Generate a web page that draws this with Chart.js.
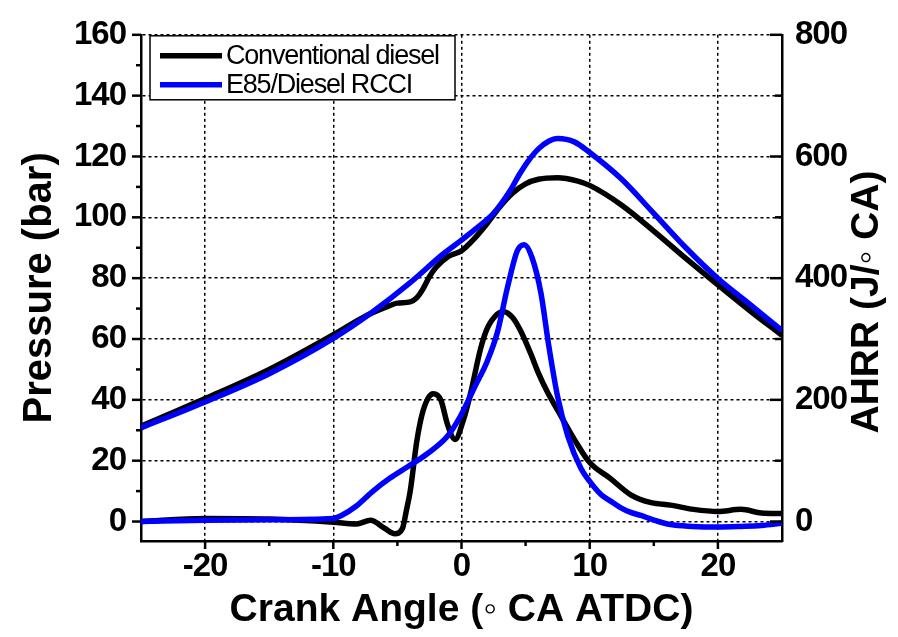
<!DOCTYPE html>
<html>
<head>
<meta charset="utf-8">
<script src="https://cdn.jsdelivr.net/npm/chart.js@4.4.0/dist/chart.umd.min.js"></script>
<style>
  body { margin: 0; background: #fff; }
</style>
</head>
<body>
<canvas id="chart" width="898" height="637"></canvas>
<script>
// axis ticks
let xTicks = [-20, -10, 0, 10, 20];
let xMinorTicks = [-15, -5, 5, 15];
let pressureTicks = [0, 20, 40, 60, 80, 100, 120, 140, 160];
let pressureMinorTicks = [10, 30, 50, 70, 90, 110, 130, 150];
let ahrrTicks = [0, 200, 400, 600, 800];
let ahrrMinorTicks = [100, 300, 500, 700];

let seriesNames = ['Conventional diesel', 'E85/Diesel RCCI'];

// cylinder pressure (bar) vs crank angle
let dieselPressureCA = [-25, -20, -15, -10, -7.5, -6, -5, -4, -3.5, -3, -2.5, -2, -1, 0, 1, 2, 3, 4, 5, 6, 7.5, 9, 10, 12.5, 15, 17.5, 20, 22.5, 25];
let dieselPressure   = [31.3, 40.4, 50, 61.4, 67.5, 70.3, 71.8, 72.2, 73.5, 76.5, 80.5, 83.5, 87.2, 89, 93, 98, 103.5, 108, 111, 112.5, 113, 112, 110.5, 104, 95.5, 86.5, 77.8, 69.3, 61.2];

let rcciPressureCA = [-25, -20, -15, -10, -7, -4, -1.5, 0, 1.2, 2.5, 3.8, 4.5, 5.2, 6, 6.8, 7.5, 8.8, 10, 12.5, 15, 17.5, 20, 22.5, 25];
let rcciPressure   = [30.8, 39.3, 48.6, 60.2, 68.7, 78.5, 87.7, 92.5, 96.5, 101.3, 108.8, 114, 118.5, 122.5, 125, 125.9, 124.8, 121.3, 112.5, 101.3, 90, 79.9, 71.4, 62.8];

// apparent heat release rate (J/deg CA) vs crank angle
let dieselAhrrCA = [-25, -20, -15, -10, -8.2, -7.1, -6, -5.2, -4.6, -4.3, -4, -3.5, -3.1, -2.6, -2.2, -1.6, -1.1, -0.5, 0.15, 0.7, 1.5, 2, 2.8, 3.3, 4, 4.6, 5.4, 6, 6.7, 7.5, 8.8, 10, 11.6, 13.2, 14.8, 16.3, 18.1, 20, 21.8, 23.4, 25];
let dieselAhrr   = [0, 5, 4, -1, -4, 2, -11, -20, -11, 18, 50, 130, 174, 203, 210, 199, 160, 135, 167, 210, 285, 317, 341, 345, 335, 314, 276, 244, 213, 183, 135, 97, 71, 44, 31, 27, 20, 16.5, 20, 14, 13];

let rcciAhrrCA = [-25, -20, -15, -10, -9.4, -8.2, -6.9, -5.6, -4.2, -2.7, -1.1, -0.1, 1, 2, 2.8, 3.6, 4.35, 4.9, 5.5, 6.2, 6.8, 7.5, 8.3, 9.3, 10, 10.9, 11.6, 12.4, 13.2, 14, 14.8, 16.3, 18, 20, 21.8, 23.4, 25];
let rcciAhrr   = [0, 2, 3, 5, 9.6, 25.6, 50, 71, 90, 111, 140, 172.6, 220, 263, 311, 386, 445, 455, 434, 375, 290, 205, 140, 88, 66, 44, 34, 23, 15, 10, 4, -5, -8, -9, -8, -6.5, -3];

function toPoints(xs, ys) {
    return xs.map(function (x, i) { return { x: x, y: ys[i] }; });
}

const FONT = '"Liberation Sans", Arial, sans-serif';
Chart.defaults.font.family = FONT;
Chart.defaults.color = '#000';

function drawTicks(ctx, scale, values, len, side) {
    values.forEach(function (v) {
        let p = scale.getPixelForValue(v);
        ctx.beginPath();
        if (side === 'bottom') { ctx.moveTo(p, scale.top); ctx.lineTo(p, scale.top + len); }
        else if (side === 'left') { ctx.moveTo(scale.right, p); ctx.lineTo(scale.right - len, p); }
        else { ctx.moveTo(scale.left, p); ctx.lineTo(scale.left - len, p); }
        ctx.stroke();
    });
}

function drawTitle(ctx, text, x, y, rot, size) {
    ctx.save();
    ctx.translate(x, y);
    ctx.rotate(rot);
    ctx.letterSpacing = '0px';
    ctx.font = 'bold ' + size + 'px ' + FONT;
    ctx.fillStyle = '#000';
    ctx.textAlign = 'center';
    ctx.textBaseline = 'middle';
    ctx.fillText(text, 0, 0);
    ctx.restore();
}

const decorations = {
    id: 'decorations',
    beforeDraw(chart) {
        chart.ctx.letterSpacing = '-1px';
    },
    afterDraw(chart) {
        const ctx = chart.ctx;
        const a = chart.chartArea;
        const sx = chart.scales.x, sy = chart.scales.y, sy2 = chart.scales.y2;

        ctx.save();
        ctx.strokeStyle = '#000';
        ctx.lineWidth = 2.5;
        drawTicks(ctx, sx, xTicks, 8, 'bottom');
        drawTicks(ctx, sx, xMinorTicks, 5, 'bottom');
        drawTicks(ctx, sy, pressureTicks, 9, 'left');
        drawTicks(ctx, sy, pressureMinorTicks, 5, 'left');
        drawTicks(ctx, sy2, ahrrTicks, 12, 'right');
        drawTicks(ctx, sy2, ahrrMinorTicks, 7, 'right');
        ctx.restore();

        // legend box
        const x0 = a.left + 9, y0 = a.top + 1;
        ctx.save();
        ctx.fillStyle = '#fff';
        ctx.fillRect(x0, y0, 305, 64);
        ctx.strokeStyle = '#000';
        ctx.lineWidth = 1.5;
        ctx.strokeRect(x0, y0, 305, 64);
        ctx.letterSpacing = '-1.2px';
        ctx.font = '27px ' + FONT;
        ctx.textAlign = 'left';
        ctx.textBaseline = 'middle';
        seriesNames.forEach(function (name, i) {
            let y = y0 + 20 + i * 29;
            ctx.strokeStyle = chart.data.datasets[i].borderColor;
            ctx.lineWidth = 5.5;
            ctx.beginPath();
            ctx.moveTo(x0 + 10, y);
            ctx.lineTo(x0 + 72, y);
            ctx.stroke();
            ctx.fillStyle = '#000';
            ctx.fillText(name, x0 + 76, y + 1);
        });
        ctx.restore();

        // axis titles
        drawTitle(ctx, 'Crank Angle (\u25E6 CA ATDC)', (a.left + a.right) / 2, 610, 0, 39);
        drawTitle(ctx, 'Pressure (bar)', 40, (a.top + a.bottom) / 2, -Math.PI / 2, 40);
        drawTitle(ctx, 'AHRR (J/\u25E6 CA)', 867, 302, -Math.PI / 2, 39);
    }
};

const lineStyle = { borderWidth: 5.5, pointRadius: 0, fill: false, cubicInterpolationMode: 'monotone' };

let chart = new Chart(document.getElementById('chart').getContext('2d'), {
    type: 'line',
    data: {
        datasets: [
            Object.assign({ label: seriesNames[0], data: toPoints(dieselPressureCA, dieselPressure), borderColor: '#000000', yAxisID: 'y', order: 2 }, lineStyle),
            Object.assign({ label: seriesNames[1], data: toPoints(rcciPressureCA, rcciPressure), borderColor: '#0000ff', yAxisID: 'y', order: 1 }, lineStyle),
            Object.assign({ label: seriesNames[0], data: toPoints(dieselAhrrCA, dieselAhrr), borderColor: '#000000', yAxisID: 'y2', order: 2 }, lineStyle),
            Object.assign({ label: seriesNames[1], data: toPoints(rcciAhrrCA, rcciAhrr), borderColor: '#0000ff', yAxisID: 'y2', order: 1 }, lineStyle)
        ]
    },
    options: {
        responsive: false,
        animation: false,
        layout: { padding: { top: 22 } },
        plugins: { legend: { display: false }, tooltip: { enabled: false } },
        scales: {
            x: {
                type: 'linear', min: -25, max: 25,
                afterBuildTicks: function (s) { s.ticks = xTicks.map(function (v) { return { value: v }; }); },
                afterFit: function (s) { s.height = 96; },
                grid: { color: '#000', lineWidth: 1.5, drawTicks: false },
                border: { color: '#000', width: 2.5, dash: [3, 3] },
                ticks: { font: { size: 33, weight: 'bold' }, color: '#000', padding: 6, maxRotation: 0 }
            },
            y: {
                position: 'left', min: -6.4, max: 160,
                afterBuildTicks: function (s) { s.ticks = pressureTicks.map(function (v) { return { value: v }; }); },
                afterFit: function (s) { s.width = 141; },
                grid: { color: '#000', lineWidth: 1.5, drawTicks: false },
                border: { color: '#000', width: 2.5, dash: [3, 3] },
                ticks: { font: { size: 33, weight: 'bold' }, color: '#000', padding: 15 }
            },
            y2: {
                position: 'right', min: -32, max: 800,
                afterBuildTicks: function (s) { s.ticks = ahrrTicks.map(function (v) { return { value: v }; }); },
                afterFit: function (s) { s.width = 116; },
                grid: { drawOnChartArea: false, drawTicks: false },
                border: { color: '#000', width: 2.5 },
                ticks: { font: { size: 33, weight: 'bold' }, color: '#000', padding: 13 }
            }
        }
    },
    plugins: [decorations]
});
</script>
</body>
</html>
